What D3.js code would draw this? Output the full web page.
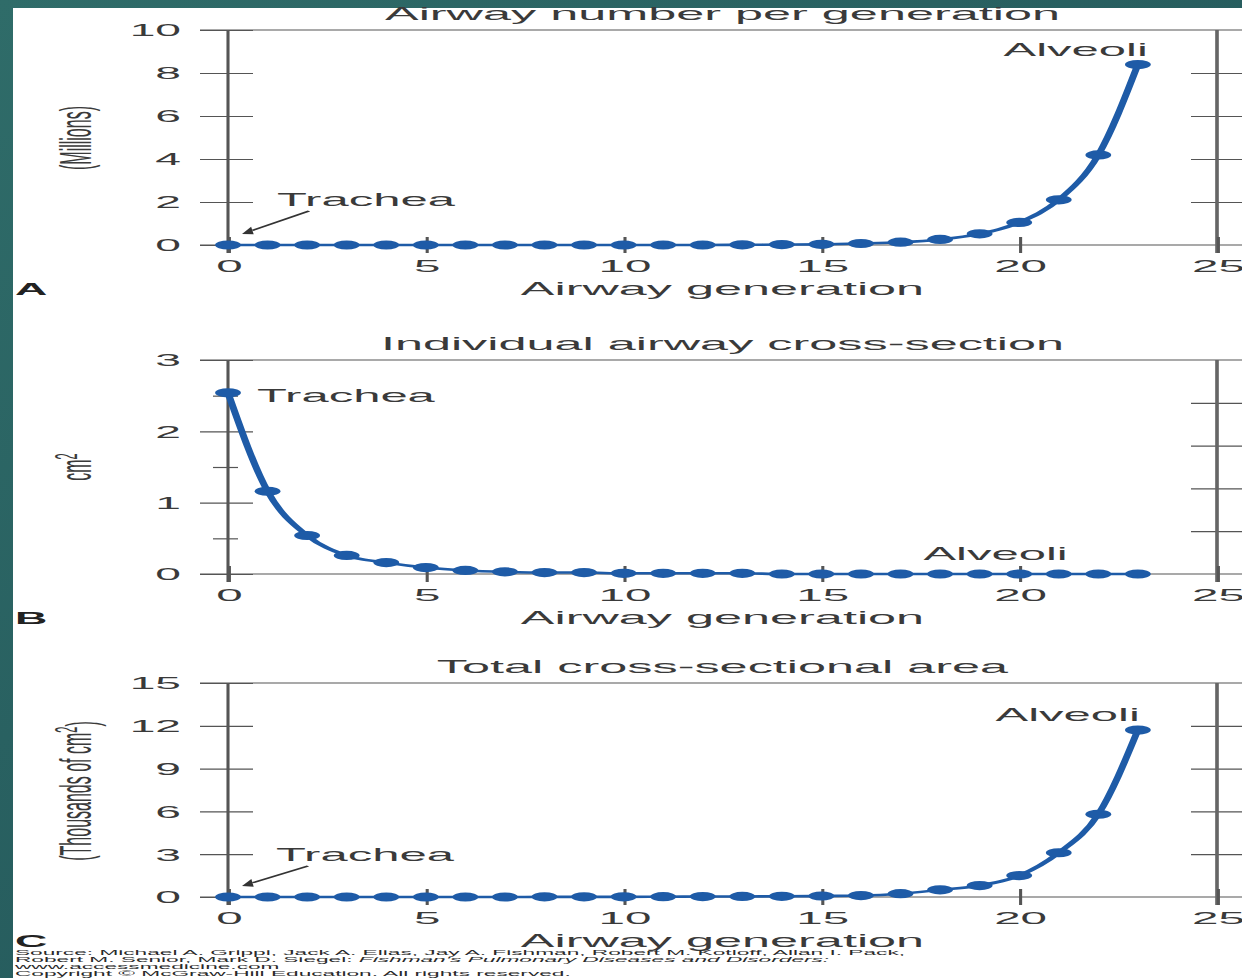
<!DOCTYPE html>
<html>
<head>
<meta charset="utf-8">
<script src="https://cdn.jsdelivr.net/npm/d3@7"></script>
<style>
  html, body { margin: 0; padding: 0; background: #fff; }
  svg { display: block; }
</style>
</head>
<body>
<svg id="chart" width="1242" height="978"></svg>
<script>
// ---- data -------------------------------------------------------------
const generations = [0, 1, 2, 3, 4, 5, 6, 7, 8, 9, 10, 11, 12, 13, 14, 15, 16, 17, 18, 19, 20, 21, 22, 23];

// Number of airways in each generation (millions)
const airwayNumberMillions = [0, 0, 0, 0, 0, 0, 0, 0, 0, 0, 0, 0, 0, 0.01, 0.02, 0.03,
  0.07, 0.13, 0.26, 0.52, 1.05, 2.10, 4.19, 8.39];

// Cross-section of a single airway (cm²)
const individualAreaCm2 = [2.54, 1.16, 0.54, 0.26, 0.16, 0.09, 0.05, 0.03, 0.02, 0.02, 0.01, 0.01,
  0.01, 0.01, 0, 0, 0, 0, 0, 0, 0, 0, 0, 0];

// Summed cross-section of all airways in a generation (thousands of cm²)
const totalAreaThousandCm2 = [0, 0, 0, 0, 0, 0, 0, 0, 0.01, 0.01, 0.01, 0.02, 0.03, 0.04, 0.05, 0.07,
  0.1, 0.23, 0.5, 0.8, 1.5, 3.1, 5.8, 11.7];

const xTicks = [0, 5, 10, 15, 20, 25];
const yTicksA = [0, 2, 4, 6, 8, 10];
const yTicksB = [0, 1, 2, 3];
const yMinorB = [0.5, 1.5, 2.5];
const yTicksC = [0, 3, 6, 9, 12, 15];
const rightTicksA = [2, 4, 6, 8];
const rightTicksB = [0.6, 1.2, 1.8, 2.4];
const rightTicksC = [3, 6, 9, 12];

const sourceLines = [
  "Source: Michael A. Grippi, Jack A. Elias, Jay A. Fishman, Robert M. Kotloff, Allan I. Pack,",
  "Robert M. Senior, Mark D. Siegel: ",
  "www.accessmedicine.com",
  "Copyright © McGraw-Hill Education. All rights reserved."
];
const sourceBook = "Fishman's Pulmonary Diseases and Disorders:";

// ---- layout -----------------------------------------------------------
const W = 1242, H = 978;
const SX = 2.8;                 // horizontal stretch of the whole figure
const ix = v => v / SX;         // screen x -> drawing x
const FONT = "'Liberation Sans', Arial, Helvetica, sans-serif";
const INK = "#3a3a3a";
const AXIS = "#555";
const BLUE = "#1e5ba7";

const svg = d3.select("#chart");

// slide frame
const defs = svg.append("defs");
const grad = defs.append("linearGradient").attr("id", "frame")
  .attr("x1", 0).attr("y1", 0).attr("x2", 1).attr("y2", 1);
grad.append("stop").attr("offset", "0%").attr("stop-color", "#2f6c69");
grad.append("stop").attr("offset", "100%").attr("stop-color", "#1f4f54");
svg.append("rect").attr("width", W).attr("height", H).attr("fill", "url(#frame)");
svg.append("rect").attr("x", 13).attr("y", 8).attr("width", W - 13).attr("height", H - 8).attr("fill", "#fff");

const root = svg.append("g").attr("transform", `scale(${SX},1)`)
  .attr("font-family", FONT);

const x = d3.scaleLinear().domain([0, 25]).range([ix(228), ix(1217)]);

const panels = [
  {
    letter: "A", title: "Airway number per generation", values: airwayNumberMillions,
    yMax: 10, yTicks: yTicksA, yMinor: [], rightTicks: rightTicksA,
    top: 30, zero: 245, ylabel: ["(Millions)"], ylabelY: 138,
    notes: [
      { text: "Trachea", gen: 0, dx: 49, dy: -39, anchor: "start", arrow: true },
      { text: "Alveoli", gen: 23, dx: 10, dy: -9, anchor: "end" }
    ]
  },
  {
    letter: "B", title: "Individual airway cross-section", values: individualAreaCm2,
    yMax: 3, yTicks: yTicksB, yMinor: yMinorB, rightTicks: rightTicksB,
    top: 360, zero: 574, ylabel: ["cm", "2", ""], ylabelY: 467,
    notes: [
      { text: "Trachea", gen: 0, dx: 29, dy: 9, anchor: "start" },
      { text: "Alveoli", gen: 21, dx: 9, dy: -14, anchor: "end" }
    ]
  },
  {
    letter: "C", title: "Total cross-sectional area", values: totalAreaThousandCm2,
    yMax: 15, yTicks: yTicksC, yMinor: [], rightTicks: rightTicksC,
    top: 683, zero: 897, ylabel: ["(Thousands of cm", "2", ")"], ylabelY: 791,
    notes: [
      { text: "Trachea", gen: 0, dx: 48, dy: -36, anchor: "start", arrow: true },
      { text: "Alveoli", gen: 23, dx: 2, dy: -9, anchor: "end" }
    ]
  }
];

function hline(g, x1, x2, y, sw) {
  g.append("line").attr("x1", x1).attr("x2", x2).attr("y1", y).attr("y2", y)
    .attr("stroke", AXIS).attr("stroke-width", sw);
}
function vline(g, xv, y1, y2, sw, color) {
  g.append("line").attr("x1", xv).attr("x2", xv).attr("y1", y1).attr("y2", y2)
    .attr("stroke", color || AXIS).attr("stroke-width", sw);
}

panels.forEach(p => {
  const y = d3.scaleLinear().domain([0, p.yMax]).range([p.zero, p.top]);
  const g = root.append("g");

  // frame: top rule, baseline, left and right axes
  hline(g, ix(200), ix(W), p.top, 1.2);
  hline(g, ix(200), ix(W), p.zero, 1.2);

  // left axis ticks and labels
  const ya = g.append("g").attr("transform", `translate(${x(0)},0)`)
    .call(d3.axisLeft(y).tickValues(p.yTicks).tickFormat(d3.format("d")).tickSize(0));
  ya.select(".domain").remove();
  ya.attr("font-family", null).attr("font-size", 16.5).attr("color", INK);
  ya.selectAll(".tick line").attr("x1", ix(-28)).attr("x2", ix(25))
    .attr("stroke", AXIS).attr("stroke-width", 1.2);
  ya.selectAll(".tick text").attr("x", ix(-47)).attr("dy", "0.36em").attr("fill", INK);

  if (p.yMinor.length) {
    const ym = g.append("g").attr("transform", `translate(${x(0)},0)`)
      .call(d3.axisLeft(y).tickValues(p.yMinor).tickFormat("").tickSize(0));
    ym.select(".domain").remove();
    ym.selectAll(".tick line").attr("x1", ix(-15)).attr("x2", ix(10))
      .attr("stroke", AXIS).attr("stroke-width", 1.2);
  }

  // right-hand ticks
  const yr = g.append("g").attr("transform", `translate(${x(25)},0)`)
    .call(d3.axisRight(y).tickValues(p.rightTicks).tickFormat("").tickSize(0));
  yr.select(".domain").remove();
  yr.selectAll(".tick line").attr("x1", ix(-26)).attr("x2", ix(25))
    .attr("stroke", AXIS).attr("stroke-width", 1.2);

  vline(g, x(0), p.top, p.zero + 8, 1.1);
  vline(g, x(25), p.top, p.zero + 8, 1.3, "#666");

  // bottom axis
  const xa = g.append("g").attr("transform", `translate(0,${p.zero})`)
    .call(d3.axisBottom(x).tickValues(xTicks).tickFormat(d3.format("d")).tickSize(0));
  xa.select(".domain").remove();
  xa.attr("font-family", null).attr("font-size", 17).attr("color", INK);
  xa.selectAll(".tick line").attr("y1", -8).attr("y2", 8)
    .attr("stroke", AXIS).attr("stroke-width", 1.1);
  xa.selectAll(".tick text").attr("y", 27).attr("dy", 0).attr("fill", INK);

  // titles and axis labels
  g.append("text").attr("x", x(12.5)).attr("y", p.top - 10)
    .attr("text-anchor", "middle").attr("font-size", 18).attr("fill", INK)
    .text(p.title);
  g.append("text").attr("x", x(12.5)).attr("y", p.zero + 50)
    .attr("text-anchor", "middle").attr("font-size", 18).attr("fill", INK)
    .text("Airway generation");
  g.append("text").attr("x", ix(15)).attr("y", p.zero + 50)
    .attr("font-size", 16).attr("font-weight", "bold").attr("fill", "#222")
    .text(p.letter);

  const yl = g.append("text")
    .attr("transform", `translate(${ix(75)},${p.ylabelY}) rotate(-90)`)
    .attr("text-anchor", "middle").attr("dy", "0.36em")
    .attr("font-size", 16).attr("fill", INK);
  yl.append("tspan").text(p.ylabel[0]);
  if (p.ylabel.length > 1) {
    yl.append("tspan").attr("dy", "-0.45em").attr("font-size", 11).text(p.ylabel[1]);
    yl.append("tspan").attr("dy", "0.45em").text(p.ylabel[2]);
  }

  // series
  const line = d3.line()
    .x((d, i) => x(generations[i]))
    .y(d => y(d))
    .curve(d3.curveMonotoneX);
  g.append("path").datum(p.values).attr("d", line)
    .attr("fill", "none").attr("stroke", BLUE).attr("stroke-width", 2.6);
  g.selectAll("circle.pt").data(p.values).join("circle").attr("class", "pt")
    .attr("cx", (d, i) => x(generations[i]))
    .attr("cy", d => y(d))
    .attr("r", 4.6)
    .attr("fill", BLUE);

  // annotations
  p.notes.forEach(n => {
    const px = x(n.gen) * SX, py = y(p.values[n.gen]);
    const tx = px + n.dx, ty = py + n.dy;
    g.append("text").attr("x", ix(tx)).attr("y", ty)
      .attr("text-anchor", n.anchor).attr("font-size", 17.5).attr("fill", INK)
      .text(n.text);
    if (n.arrow) {
      const tail = [tx + 32, ty + 5];
      const tip = [px + 14, py - 11];
      const ang = Math.atan2(tip[1] - tail[1], tip[0] - tail[0]);
      const len = 11, hw = 4;
      const base = [tip[0] - len * Math.cos(ang), tip[1] - len * Math.sin(ang)];
      const l = [base[0] + hw * Math.sin(ang), base[1] - hw * Math.cos(ang)];
      const r = [base[0] - hw * Math.sin(ang), base[1] + hw * Math.cos(ang)];
      g.append("line").attr("x1", ix(tail[0])).attr("y1", tail[1])
        .attr("x2", ix(base[0])).attr("y2", base[1])
        .attr("stroke", "#333").attr("stroke-width", 1.3);
      g.append("path")
        .attr("d", `M${ix(tip[0])},${tip[1]}L${ix(l[0])},${l[1]}L${ix(r[0])},${r[1]}Z`)
        .attr("fill", "#333");
    }
  });
});

// source note
const src = root.append("g").attr("font-size", 8.1).attr("fill", "#2a2a2a");
const baselines = [955, 962, 969, 976];
sourceLines.forEach((s, i) => {
  const t = src.append("text").attr("x", ix(15)).attr("y", baselines[i]).text(s);
  if (i === 1) t.append("tspan").attr("font-style", "italic").text(sourceBook);
});
</script>
</body>
</html>
